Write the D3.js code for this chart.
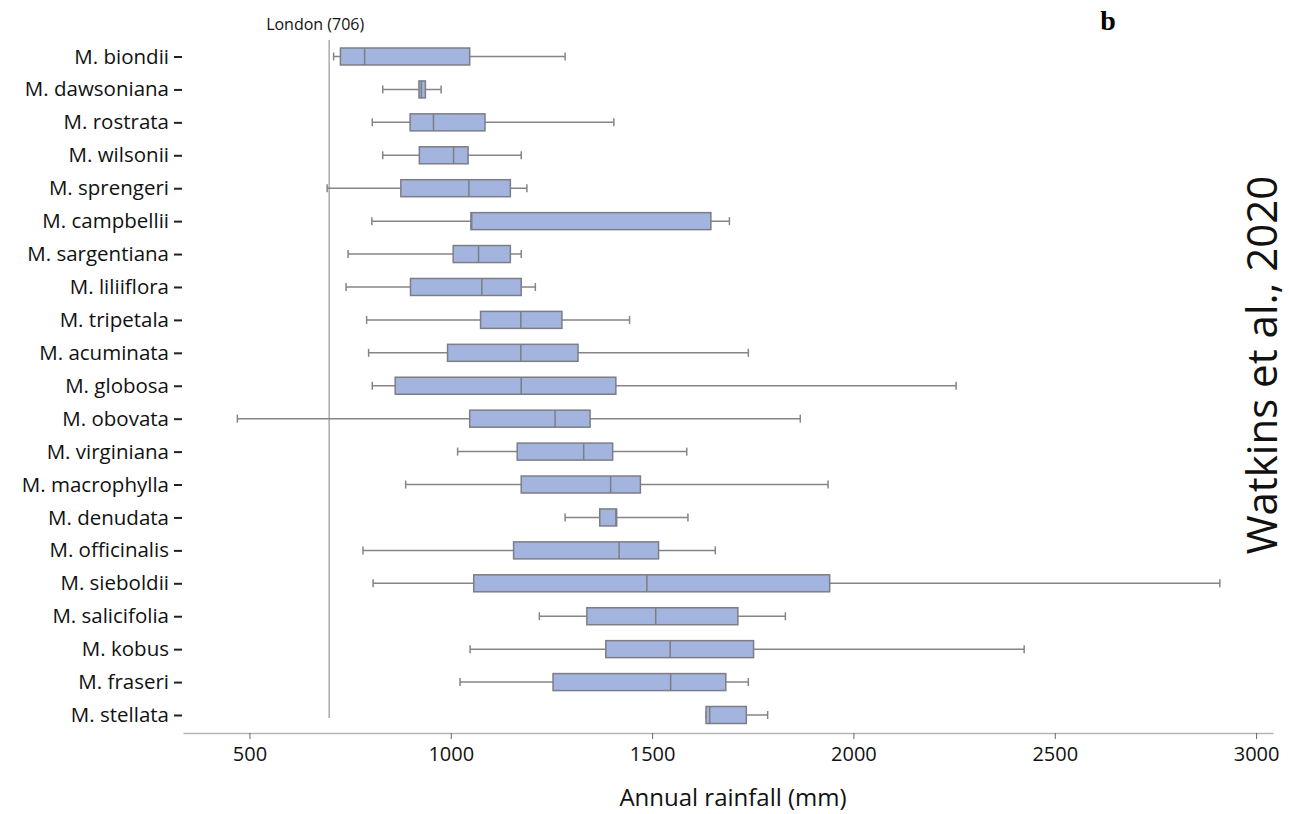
<!DOCTYPE html>
<html>
<head>
<meta charset="utf-8">
<script src="https://cdn.jsdelivr.net/npm/d3@7"></script>
<style>
  body { margin: 0; background: #fff; }
  svg { display: block; font-family: 'Open Sans', sans-serif; }
</style>
</head>
<body>
<div id="chart"></div>
<script>
const species = ['M. biondii', 'M. dawsoniana', 'M. rostrata', 'M. wilsonii', 'M. sprengeri',
  'M. campbellii', 'M. sargentiana', 'M. liliiflora', 'M. tripetala', 'M. acuminata',
  'M. globosa', 'M. obovata', 'M. virginiana', 'M. macrophylla', 'M. denudata',
  'M. officinalis', 'M. sieboldii', 'M. salicifolia', 'M. kobus', 'M. fraseri', 'M. stellata']

const lowWhisker = [709, 831, 805, 831, 693, 804, 745, 740, 791, 796, 805, 470, 1017, 888, 1284, 782, 807, 1220, 1048, 1023, 1634]
const q1 = [726, 921, 899, 922, 876, 1050, 1006, 900, 1074, 992, 862, 1047, 1165, 1175, 1370, 1156, 1057, 1338, 1385, 1254, 1634]
const median = [786, 927, 957, 1007, 1045, 1052, 1069, 1077, 1174, 1174, 1175, 1259, 1330, 1397, 1410, 1418, 1487, 1509, 1545, 1546, 1643]
const q3 = [1047, 937, 1085, 1043, 1148, 1646, 1148, 1175, 1276, 1316, 1410, 1346, 1402, 1471, 1412, 1516, 1941, 1713, 1752, 1683, 1734]
const highWhisker = [1284, 976, 1405, 1175, 1189, 1692, 1175, 1210, 1444, 1739, 2255, 1868, 1586, 1937, 1589, 1657, 2910, 1831, 2424, 1739, 1787]

const xTicks = [500, 1000, 1500, 2000, 2500, 3000]
const londonPos = 698
const londonLabel = 'London (706)'

const rows = species.map((name, i) => ({
  name, lo: lowWhisker[i], q1: q1[i], med: median[i], q3: q3[i], hi: highWhisker[i]
}))

const width = 1289
const height = 814

const x = d3.scaleLinear()
  .domain([335, 3042])
  .range([183, 1273])

const y = d3.scalePoint()
  .domain(species)
  .range([56.5, 715])

const boxH = 17
const capH = 8

const svg = d3.select('#chart')
  .append('svg')
  .attr('width', width)
  .attr('height', height)

// london reference line
svg.append('line')
  .attr('x1', x(londonPos)).attr('x2', x(londonPos))
  .attr('y1', 40).attr('y2', 718)
  .attr('stroke', '#aaaaaa')
  .attr('stroke-width', 1.5)

svg.append('text')
  .attr('x', x(londonPos) - 14)
  .attr('y', 30)
  .attr('text-anchor', 'middle')
  .attr('font-size', 16)
  .attr('fill', '#111')
  .text(londonLabel)

const g = svg.selectAll('g.row')
  .data(rows)
  .enter()
  .append('g')
  .attr('class', 'row')
  .attr('transform', d => `translate(0,${y(d.name)})`)

const grey = '#858585'

// whiskers
g.append('line')
  .attr('x1', d => x(d.lo)).attr('x2', d => x(d.hi))
  .attr('stroke', grey).attr('stroke-width', 1.5)

g.selectAll('line.cap')
  .data(d => [d.lo, d.hi])
  .enter()
  .append('line')
  .attr('class', 'cap')
  .attr('x1', v => x(v)).attr('x2', v => x(v))
  .attr('y1', -capH / 2).attr('y2', capH / 2)
  .attr('stroke', grey).attr('stroke-width', 1.5)

// boxes
g.append('rect')
  .attr('x', d => x(d.q1))
  .attr('width', d => Math.max(1, x(d.q3) - x(d.q1)))
  .attr('y', -boxH / 2)
  .attr('height', boxH)
  .attr('fill', '#a3b4de')
  .attr('stroke', '#7d7d85')
  .attr('stroke-width', 1.5)

g.append('line')
  .attr('x1', d => x(d.med)).attr('x2', d => x(d.med))
  .attr('y1', -boxH / 2).attr('y2', boxH / 2)
  .attr('stroke', '#7d7d85').attr('stroke-width', 1.5)

// x axis
const xAxis = svg.append('g')
  .attr('transform', 'translate(0,733)')
  .call(d3.axisBottom(x).tickValues(xTicks).tickFormat(d3.format('d'))
    .tickSize(6).tickSizeOuter(0).tickPadding(8))

xAxis.select('.domain').attr('stroke', '#b5b5b5').attr('stroke-width', 1.5)
xAxis.selectAll('.tick line').attr('stroke', '#666')
xAxis.selectAll('.tick text')
  .attr('font-size', 20)
  .attr('font-family', 'Open Sans, sans-serif')
  .attr('fill', '#111')

// y axis
const yAxis = svg.append('g')
  .attr('transform', 'translate(182,0)')
  .call(d3.axisLeft(y).tickSize(8).tickPadding(5))

yAxis.select('.domain').remove()
yAxis.selectAll('.tick line').attr('stroke', '#222').attr('stroke-width', 2)
yAxis.selectAll('.tick text')
  .attr('font-size', 20.5)
  .attr('font-family', 'Open Sans, sans-serif')
  .attr('fill', '#111')

svg.append('text')
  .attr('x', 733)
  .attr('y', 806)
  .attr('text-anchor', 'middle')
  .attr('font-size', 24)
  .attr('fill', '#111')
  .text('Annual rainfall (mm)')

svg.append('text')
  .attr('x', 1108)
  .attr('y', 30)
  .attr('text-anchor', 'middle')
  .attr('font-family', 'Liberation Serif, serif')
  .attr('font-weight', 'bold')
  .attr('font-size', 28)
  .attr('fill', '#000')
  .text('b')

svg.append('text')
  .attr('transform', 'translate(1277,365) rotate(-90)')
  .attr('text-anchor', 'middle')
  .attr('font-size', 42)
  .attr('fill', '#111')
  .text('Watkins et al., 2020')
</script>
</body>
</html>
